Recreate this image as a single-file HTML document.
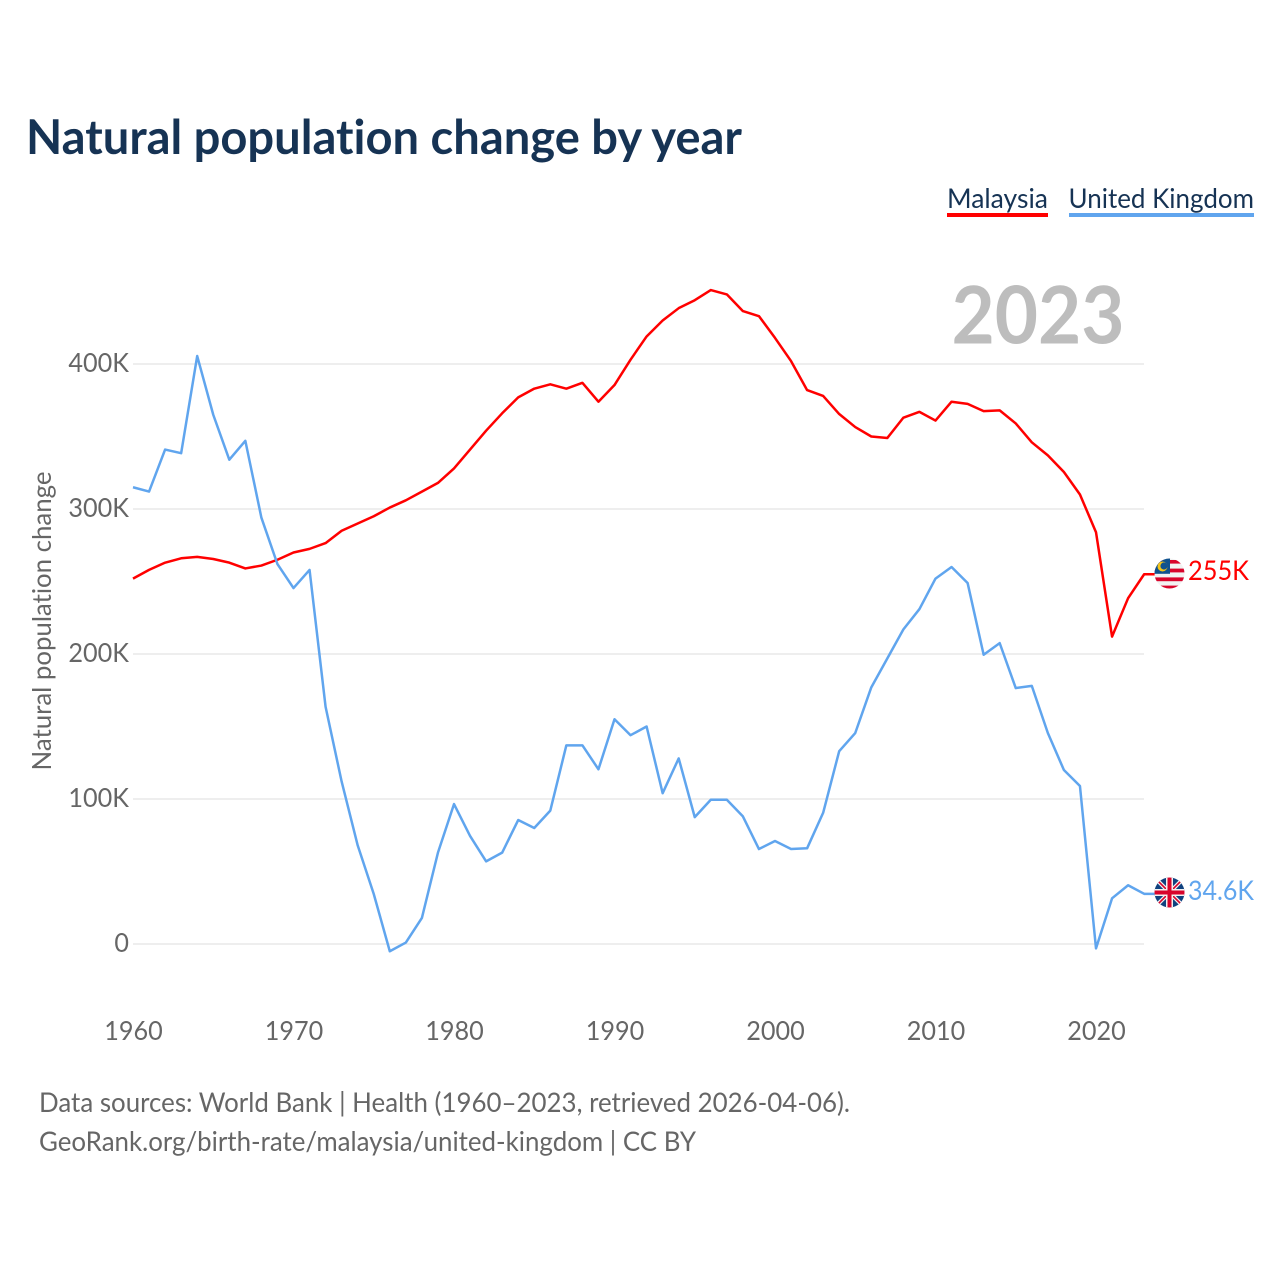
<!DOCTYPE html>
<html lang="en">
<head>
<meta charset="utf-8">
<title>Natural population change by year</title>
<style>
html,body{margin:0;padding:0;background:#fff;width:1280px;height:1280px;overflow:hidden}
svg{display:block}
text{font-family:"Lato","Carlito","Liberation Sans",sans-serif;font-variant-ligatures:none}
</style>
</head>
<body>
<svg id="chart" xmlns="http://www.w3.org/2000/svg" width="1280" height="1280" viewBox="0 0 1280 1280">
  <defs>
    <clipPath id="clip-my"><circle cx="1169.5" cy="573.5" r="15"/></clipPath>
    <clipPath id="clip-uk"><circle cx="1169.5" cy="892.5" r="15"/></clipPath>
  </defs>
  <text x="26" y="154" font-size="48" font-weight="700" fill="#163354" textLength="716" lengthAdjust="spacingAndGlyphs">Natural population change by year</text>

  <g>
    <g>
      <text x="947" y="208" font-size="27" fill="#163354" textLength="101" lengthAdjust="spacingAndGlyphs">Malaysia</text>
      <rect x="947" y="213" width="101" height="4" fill="#ff0000"/>
    </g>
    <g>
      <text x="1068.5" y="208" font-size="27" fill="#163354" textLength="185.5" lengthAdjust="spacingAndGlyphs">United Kingdom</text>
      <rect x="1069" y="213" width="185" height="4" fill="#60a5ee"/>
    </g>
  </g>

  <g id="grid"></g>
  <g id="y-ticks"></g>
  <g id="x-ticks"></g>
  <text transform="translate(51,621) rotate(-90)" text-anchor="middle" font-size="26" fill="#666" textLength="299" lengthAdjust="spacingAndGlyphs">Natural population change</text>

  <text id="year-label" x="1124.5" y="343.5" text-anchor="end" font-size="80" font-weight="700" fill="#bdbdbd" textLength="173" lengthAdjust="spacingAndGlyphs">2023</text>

  <g id="series"></g>

  <g>
    <g clip-path="url(#clip-my)">
      <rect x="1154" y="558" width="31" height="31" fill="#f2f2f2"/>
      <rect x="1154" y="560" width="31" height="3.6" fill="#d9042b"/>
      <rect x="1154" y="568.6" width="31" height="3.8" fill="#d9042b"/>
      <rect x="1154" y="577.4" width="31" height="3.8" fill="#d9042b"/>
      <rect x="1154" y="585.6" width="31" height="3.6" fill="#d9042b"/>
      <rect x="1154" y="558" width="16" height="15.8" fill="#10528f"/>
      <circle cx="1162.5" cy="566.5" r="5" fill="#f5c518"/>
      <circle cx="1164" cy="566" r="3.6" fill="#10528f"/>
    </g>
  </g>
  <g>
    <g clip-path="url(#clip-uk)">
      <rect x="1154" y="877" width="31" height="31" fill="#10427f"/>
      <path d="M1155 878 L1184 907 M1184 878 L1155 907" stroke="#f2f2f2" stroke-width="4"/>
      <path d="M1155 878 L1184 907 M1184 878 L1155 907" stroke="#d9042b" stroke-width="1.6"/>
      <rect x="1166" y="877" width="7" height="31" fill="#f2f2f2"/>
      <rect x="1154" y="889" width="31" height="7" fill="#f2f2f2"/>
      <rect x="1167.5" y="877" width="4" height="31" fill="#d9042b"/>
      <rect x="1154" y="890.5" width="31" height="4" fill="#d9042b"/>
    </g>
  </g>
  <text x="1188" y="580" font-size="27" fill="#ff0000" textLength="61" lengthAdjust="spacingAndGlyphs">255K</text>
  <text x="1188" y="900" font-size="27" fill="#60a5ee" textLength="66" lengthAdjust="spacingAndGlyphs">34.6K</text>

  <text x="39" y="1112" font-size="27" fill="#666" textLength="811" lengthAdjust="spacingAndGlyphs">Data sources: World Bank | Health (1960–2023, retrieved 2026-04-06).</text>
  <text x="39" y="1151" font-size="27" fill="#666" textLength="657" lengthAdjust="spacingAndGlyphs">GeoRank.org/birth-rate/malaysia/united-kingdom | CC BY</text>
</svg>
<script>
const startYear = 1960;
const malaysia = [252,258,263,266,267,265.5,263,259,261,265,270,272.5,276.5,285,290,295,301,306,312,318,328,341,354,366,377,383,386,383,387,374,385.5,403,419,430,438.5,444,451,448,436.5,433,418,402,382,378,365.5,356.5,350,349,363,367,361,374,372.5,367.5,368,359,346,337,325.5,310,284,212,238.5,255];
const unitedKingdom = [315,312,341,338.5,405.5,365,334,347,294,262,245.5,258,163.5,112,68,34.5,-5,1,18,63,96.5,74.5,57,63,85.5,80,92,137,137,120.5,155,144,150,104,128,87.5,99.5,99.5,88,65.5,71,65.5,66,90.5,133,145.5,177,197,217,231,252,260,249,199.5,207.5,176.5,178,145.5,120,109,-3,31.5,40.5,34.6];
const yTicks = [0,100,200,300,400];
const yTickLabels = ["0","100K","200K","300K","400K"];
const xTicks = [1960,1970,1980,1990,2000,2010,2020];

const NS = "http://www.w3.org/2000/svg";
function xScale(year){ return 133 + (year - 1960) * 16.05; }
function yScale(value){ return 944 - value * 1.45; }

const grid = document.getElementById("grid");
const yGroup = document.getElementById("y-ticks");
const xGroup = document.getElementById("x-ticks");
const seriesGroup = document.getElementById("series");

yTicks.forEach(function(t, i){
  const line = document.createElementNS(NS, "line");
  line.setAttribute("x1", 133);
  line.setAttribute("x2", 1144);
  line.setAttribute("y1", yScale(t));
  line.setAttribute("y2", yScale(t));
  line.setAttribute("stroke", "#eeeeee");
  line.setAttribute("stroke-width", 2);
  
  
  grid.appendChild(line);
  const label = document.createElementNS(NS, "text");
  label.setAttribute("x", 129);
  label.setAttribute("y", yScale(t) + 8);
  label.setAttribute("text-anchor", "end");
  label.setAttribute("font-size", 26);
  label.setAttribute("fill", "#666");
  
  
  label.textContent = yTickLabels[i];
  yGroup.appendChild(label);
  label.setAttribute("textLength", (label.getComputedTextLength() * 0.97).toFixed(1));
  label.setAttribute("lengthAdjust", "spacingAndGlyphs");
});

xTicks.forEach(function(t){
  const label = document.createElementNS(NS, "text");
  label.setAttribute("x", xScale(t) + 0.5);
  label.setAttribute("y", 1040);
  label.setAttribute("text-anchor", "middle");
  label.setAttribute("font-size", 26);
  label.setAttribute("fill", "#666");
  
  
  label.textContent = t;
  xGroup.appendChild(label);
  label.setAttribute("textLength", (label.getComputedTextLength() * 0.97).toFixed(1));
  label.setAttribute("lengthAdjust", "spacingAndGlyphs");
});

function pointsFor(values){
  return values.map(function(v, i){
    return xScale(startYear + i).toFixed(2) + "," + yScale(v).toFixed(2);
  }).join(" ");
}

function leaderFor(values){
  const lastY = yScale(values[values.length - 1]).toFixed(2);
  return " 1155," + lastY;
}

const malaysiaLine = document.createElementNS(NS, "polyline");
malaysiaLine.setAttribute("points", pointsFor(malaysia) + leaderFor(malaysia));
malaysiaLine.setAttribute("fill", "none");
malaysiaLine.setAttribute("stroke", "#ff0000");
malaysiaLine.setAttribute("stroke-width", 2.5);
malaysiaLine.setAttribute("stroke-linejoin", "round");


seriesGroup.appendChild(malaysiaLine);

const ukLine = document.createElementNS(NS, "polyline");
ukLine.setAttribute("points", pointsFor(unitedKingdom) + leaderFor(unitedKingdom));
ukLine.setAttribute("fill", "none");
ukLine.setAttribute("stroke", "#60a5ee");
ukLine.setAttribute("stroke-width", 2.5);
ukLine.setAttribute("stroke-linejoin", "round");


seriesGroup.appendChild(ukLine);
</script>
</body>
</html>
